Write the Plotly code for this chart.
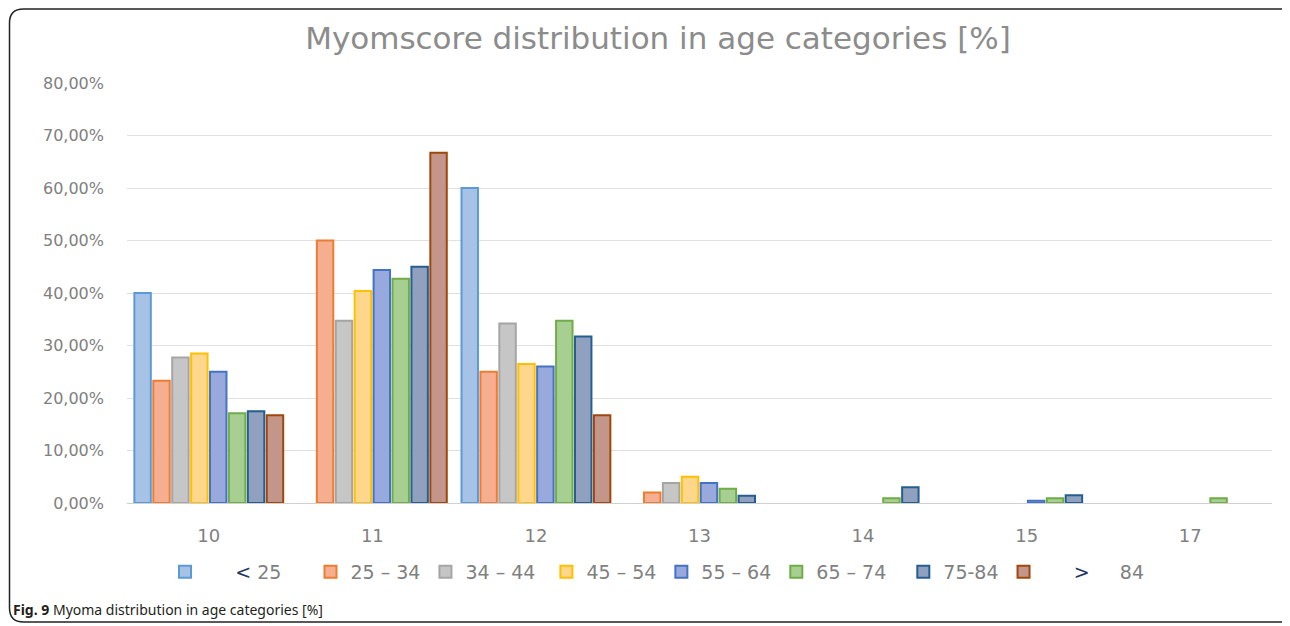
import plotly.graph_objects as go

categories = ["10", "11", "12", "13", "14", "15", "17"]

series_names = ["<25", "25-34", "34-44", "45-54", "55-64", "65-74", "75-84", ">84"]
NB = "&nbsp;"
legend_labels = [
    NB * 5 + "<span style='color:#1F3864'>&lt;</span>" + NB * 1 + "25" + NB * 4,
    "25 – 34",
    "34 – 44" + NB * 1,
    "45 – 54",
    "55 – 64",
    "65 – 74" + NB * 2,
    "75-84",
    NB * 5 + "<span style='color:#1F3864'>&gt;</span>" + NB * 5 + "84",
]

v_lt25 = [40.0, None, 60.0, None, None, None, None]
v_25_34 = [23.3, 50.0, 25.0, 2.0, None, None, None]
v_34_44 = [27.7, 34.7, 34.2, 3.8, None, None, None]
v_45_54 = [28.5, 40.4, 26.5, 5.0, None, None, None]
v_55_64 = [25.0, 44.4, 26.0, 3.8, None, 0.45, None]
v_65_74 = [17.1, 42.7, 34.7, 2.7, 0.9, 0.9, 0.9]
v_75_84 = [17.5, 45.0, 31.7, 1.4, 3.0, 1.5, None]
v_gt84 = [16.7, 66.7, 16.7, None, None, None, None]

all_values = [v_lt25, v_25_34, v_34_44, v_45_54, v_55_64, v_65_74, v_75_84, v_gt84]

fill_colors = ["#A6C3E7", "#F5AE90", "#C6C6C6", "#FFD78C", "#98AADD", "#A7CF91", "#8FA1BE", "#C49589"]
edge_colors = ["#5B9BD5", "#ED7D31", "#A5A5A5", "#FFC000", "#4472C4", "#70AD47", "#255E91", "#9E480E"]

y_tickvals = [0, 10, 20, 30, 40, 50, 60, 70, 80]
y_ticktext = ["0,00%", "10,00%", "20,00%", "30,00%", "40,00%", "50,00%", "60,00%", "70,00%", "80,00%"]

# the page body has an 8px margin: work in reference pixels, shifted by OFF
OFF = 8
W, H = 1290 - OFF, 626 - OFF
L, T = 127 - OFF, 83 - OFF
R = W - (1272 - OFF)
B = H - (503 - OFF)
pw, ph = W - L - R, H - T - B


def px_x(x_ref):
    return (x_ref - OFF - L) / pw


def px_y(y_ref):
    return (H - B - (y_ref - OFF)) / ph


fig = go.Figure()
for name, lab, vals, fc, ec in zip(series_names, legend_labels, all_values, fill_colors, edge_colors):
    fig.add_trace(go.Bar(
        x=categories, y=vals, name=lab,
        marker=dict(color=fc, line=dict(color=ec, width=2)),
        hovertext=name,
    ))

# rounded outer border
x0, y0, x1, y1, r = px_x(9.5), px_y(9), px_x(1300), px_y(622), 14
rx, ry = r / pw, r / ph
path = (f"M {x0+rx},{y0} L {x1-rx},{y0} Q {x1},{y0} {x1},{y0-ry} "
        f"L {x1},{y1+ry} Q {x1},{y1} {x1-rx},{y1} L {x0+rx},{y1} "
        f"Q {x0},{y1} {x0},{y1+ry} L {x0},{y0-ry} Q {x0},{y0} {x0+rx},{y0} Z")

fig.update_layout(
    width=W, height=H,
    margin=dict(l=L, r=R, t=T, b=B),
    paper_bgcolor="white", plot_bgcolor="white",
    font=dict(family="DejaVu Sans", color="#808080"),
    barmode="group", bargap=0.075, bargroupgap=0.13,
    title=dict(text="Myomscore distribution in age categories [%]",
               x=(658 - OFF) / W, xanchor="center", y=1 - (38 - OFF) / H, yanchor="middle",
               font=dict(size=31, color="#8C8C8C", family="DejaVu Sans")),
    xaxis=dict(showgrid=False, showline=True, linecolor="#D0D0D0", linewidth=1,
               ticks="", tickfont=dict(size=18, color="#808080"), ticklabelstandoff=16),
    yaxis=dict(range=[0, 80], tickvals=y_tickvals, ticktext=y_ticktext,
               showgrid=True, gridcolor="#E0E0E0", gridwidth=1, zeroline=False,
               showline=False, ticks="", tickfont=dict(size=16, color="#808080"),
               ticklabelstandoff=22),
    legend=dict(orientation="h", x=px_x(165), xanchor="left", y=px_y(572), yanchor="middle",
                font=dict(size=19, color="#808080"), traceorder="normal",
                itemwidth=30),
    showlegend=True,
    shapes=[dict(type="path", path=path, xref="paper", yref="paper",
                 line=dict(color="#222222", width=1.5), fillcolor="rgba(0,0,0,0)", layer="above")],
    annotations=[dict(text="<b>Fig. 9</b> Myoma distribution in age categories [%]",
                      xref="paper", yref="paper", x=px_x(11), y=px_y(609),
                      xanchor="left", yanchor="middle", showarrow=False,
                      font=dict(size=14, color="#231F20", family="Noto Sans"))],
)

fig.write_html("out.html")
